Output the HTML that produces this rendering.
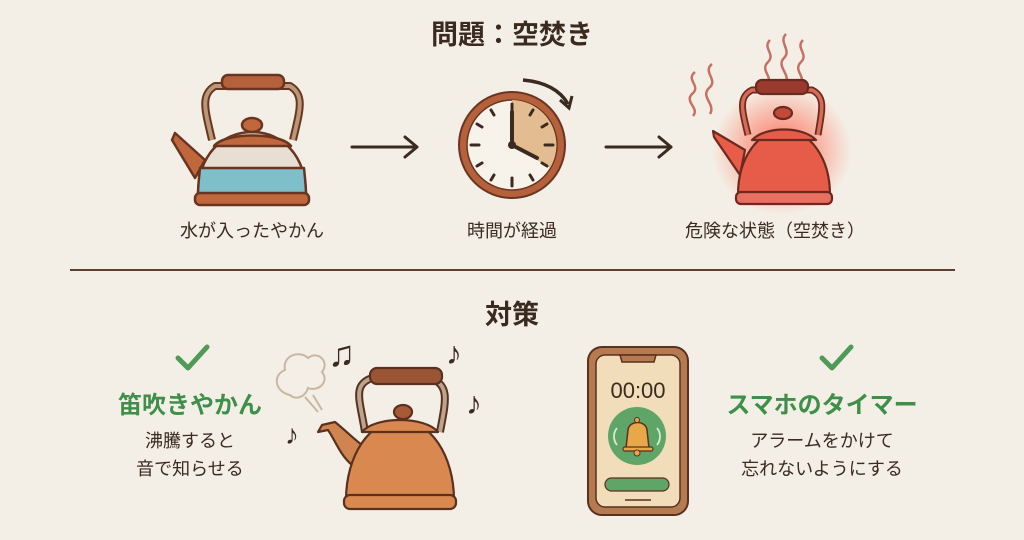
<!DOCTYPE html>
<html><head><meta charset="utf-8"><style>
html,body{margin:0;padding:0;background:#f4efe6;}
svg{display:block}
text{font-family:"Liberation Sans","Noto Sans CJK JP",sans-serif;}
</style></head><body>
<svg width="1024" height="540" viewBox="0 0 1024 540" xmlns="http://www.w3.org/2000/svg">
<defs>
<radialGradient id="glow" cx="50%" cy="50%" r="50%">
<stop offset="0" stop-color="#ff3b2a" stop-opacity="0.75"/>
<stop offset="0.6" stop-color="#ff5a40" stop-opacity="0.35"/>
<stop offset="1" stop-color="#ff6a50" stop-opacity="0"/>
</radialGradient>
</defs>
<rect width="1024" height="540" fill="#f4efe6"/>
<text x="512" y="44" font-size="27" font-weight="bold" fill="#3a2a20" text-anchor="middle">問題：空焚き</text>

<!-- Kettle 1 (water) -->
<g stroke="#6a3520" stroke-width="2.5" stroke-linejoin="round">
<path d="M212,140 C205,110 200,95 215,86 L290,86 C305,95 300,110 293,140" fill="none" stroke="#6a3520" stroke-width="8"/>
<path d="M212,140 C205,110 200,95 215,86 L290,86 C305,95 300,110 293,140" fill="none" stroke="#b89878" stroke-width="4"/>
<rect x="222" y="75" width="62" height="14" rx="6" fill="#b5613c"/>
<path d="M205,160 L175,133 L172,140 L195,178 Z" fill="#c0673e"/>
<path d="M198,195 C198,155 222,132 252,132 C282,132 306,155 306,195 Z" fill="#e8dfd2"/>
<path d="M200,168 L304,168 C305,178 306,186 306,195 L198,195 C198,186 199,178 200,168 Z" fill="#7ebfc9"/>
<path d="M214,146 C225,132 280,132 291,146 Z" fill="#c0673e"/>
<ellipse cx="252" cy="125" rx="10" ry="7" fill="#c0673e"/>
<rect x="195" y="193" width="114" height="12" rx="5" fill="#c0673e"/>
</g>

<!-- arrows -->
<g stroke="#3a2a20" stroke-width="3" fill="none" stroke-linecap="round" stroke-linejoin="round">
<path d="M352,147 L417,147 M405,137 L417,147 L405,157"/>
<path d="M606,147 L671,147 M659,137 L671,147 L659,157"/>
</g>

<!-- Clock -->
<circle cx="512" cy="145" r="53" fill="#b5613c" stroke="#6a3520" stroke-width="2"/>
<circle cx="512" cy="145" r="45" fill="#f8f3ea" stroke="#6a3520" stroke-width="1.5"/>
<path d="M512,145 L512,100 A45,45 0 0 1 550,168 Z" fill="#e3bd91"/>
<g stroke="#3a2a20" stroke-width="3" stroke-linecap="round">
<line x1="512" y1="104" x2="512" y2="112"/><line x1="512" y1="178" x2="512" y2="186"/>
<line x1="471" y1="145" x2="479" y2="145"/><line x1="545" y1="145" x2="553" y2="145"/>
<line x1="491" y1="110" x2="494" y2="115"/><line x1="533" y1="110" x2="530" y2="115"/>
<line x1="477" y1="124" x2="482" y2="127"/><line x1="547" y1="124" x2="542" y2="127"/>
<line x1="477" y1="166" x2="482" y2="163"/><line x1="547" y1="166" x2="542" y2="163"/>
<line x1="491" y1="180" x2="494" y2="175"/><line x1="533" y1="180" x2="530" y2="175"/>
<line x1="512" y1="145" x2="512" y2="112" stroke-width="4"/>
<line x1="512" y1="145" x2="537" y2="158" stroke-width="4"/>
</g>
<circle cx="512" cy="145" r="4" fill="#3a2a20"/>
<path d="M523,80 C545,82 560,90 568,104" stroke="#3a2a20" stroke-width="3.5" fill="none"/>
<path d="M560,100 L569,108 L572,96" stroke="#3a2a20" stroke-width="3" fill="none"/>

<!-- Red kettle -->
<ellipse cx="782" cy="150" rx="70" ry="65" fill="url(#glow)"/>
<g stroke="#c77065" stroke-width="2.5" fill="none">
<path d="M695,72 C685,80 702,86 692,94 C684,102 700,108 693,116"/>
<path d="M712,64 C702,72 719,80 709,88 C700,97 716,104 710,114"/>
<path d="M770,40 C762,48 776,54 768,62 C760,70 772,76 768,82"/>
<path d="M786,34 C778,42 792,50 784,58 C776,66 790,74 786,82"/>
<path d="M803,40 C795,48 809,54 801,62 C793,70 805,76 801,82"/>
</g>
<g stroke="#6a2a20" stroke-width="2.2" stroke-linejoin="round">
<path d="M748,135 C742,110 738,97 752,90 L812,90 C826,97 822,110 818,135" fill="none" stroke="#6a2a20" stroke-width="7"/>
<path d="M748,135 C742,110 738,97 752,90 L812,90 C826,97 822,110 818,135" fill="none" stroke="#d86a58" stroke-width="3.5"/>
<rect x="756" y="80" width="52" height="14" rx="6" fill="#9a3a2e"/>
<path d="M745,150 L713,131 L714,137 L740,175 Z" fill="#e85c48"/>
<path d="M738,195 C738,158 758,130 784,130 C810,130 830,158 830,195 Z" fill="#e65c48"/>
<path d="M752,140 C765,126 803,126 816,140 Z" fill="#e65c48"/>
<ellipse cx="783" cy="113" rx="9" ry="6" fill="#c24a3a"/>
<rect x="736" y="192" width="96" height="12" rx="5" fill="#e87060"/>
</g>

<text x="252" y="237" font-size="18" fill="#3a2a20" text-anchor="middle">水が入ったやかん</text>
<text x="512" y="237" font-size="18" fill="#3a2a20" text-anchor="middle">時間が経過</text>
<text x="775" y="237" font-size="18" fill="#3a2a20" text-anchor="middle">危険な状態（空焚き）</text>

<line x1="70" y1="270" x2="955" y2="270" stroke="#5a4030" stroke-width="2"/>
<text x="512" y="324" font-size="27" font-weight="bold" fill="#3a2a20" text-anchor="middle">対策</text>

<!-- left section -->
<path d="M178,358 L188,368 L207,347" stroke="#4f9a58" stroke-width="5" fill="none" stroke-linecap="round" stroke-linejoin="round"/>
<text x="190" y="413" font-size="24" font-weight="bold" fill="#3f8f4a" text-anchor="middle">笛吹きやかん</text>
<text x="190" y="447" font-size="18" fill="#3a2a20" text-anchor="middle">沸騰すると</text>
<text x="190" y="475" font-size="18" fill="#3a2a20" text-anchor="middle">音で知らせる</text>

<!-- whistling kettle -->
<path d="M290,395 C275,392 272,375 285,370 C282,355 300,350 308,358 C318,350 330,362 322,372 C330,382 318,392 308,388 C305,398 295,400 290,395 Z" fill="#f4efe6" stroke="#c8b6a0" stroke-width="2"/>
<g stroke="#c8b6a0" stroke-width="2"><line x1="305" y1="397" x2="318" y2="412"/><line x1="313" y1="395" x2="322" y2="410"/></g>
<g stroke="#5a3020" stroke-width="2.2" stroke-linejoin="round">
<path d="M365,432 C360,400 352,385 372,378 L430,378 C450,385 446,400 440,432" fill="none" stroke="#5a3020" stroke-width="8"/>
<path d="M365,432 C360,400 352,385 372,378 L430,378 C450,385 446,400 440,432" fill="none" stroke="#bba58e" stroke-width="4"/>
<rect x="370" y="368" width="72" height="16" rx="7" fill="#9a5535"/>
<path d="M352,465 C340,455 335,440 328,430 L318,432 L322,425 L335,422 C345,430 355,440 362,445 Z" fill="#d08550"/>
<path d="M346,500 C346,455 370,420 400,420 C430,420 454,455 454,500 Z" fill="#d9894f"/>
<path d="M362,432 C375,416 425,416 438,432 Z" fill="#d9894f"/>
<ellipse cx="403" cy="412" rx="9" ry="7" fill="#a85a35"/>
<rect x="344" y="495" width="112" height="14" rx="6" fill="#d9894f"/>
</g>
<g fill="#3a2a20">
<text x="328" y="366" font-size="36" font-family="DejaVu Sans" font-weight="bold">♫</text>
<text x="446" y="364" font-size="32" font-family="DejaVu Sans" font-weight="bold">♪</text>
<text x="466" y="414" font-size="32" font-family="DejaVu Sans" font-weight="bold">♪</text>
<text x="285" y="444" font-size="28" font-family="DejaVu Sans" font-weight="bold">♪</text>
</g>

<!-- phone -->
<rect x="588" y="347" width="100" height="168" rx="14" fill="#b57a50" stroke="#5a3020" stroke-width="2"/>
<rect x="596" y="355" width="84" height="152" rx="9" fill="#f2ddba" stroke="#5a3020" stroke-width="1.5"/>
<path d="M620,355 L622,362 L654,362 L656,355 Z" fill="#b57a50" stroke="#5a3020" stroke-width="1.5"/>
<text x="638" y="398" font-size="22" fill="#3a2a20" text-anchor="middle">00:00</text>
<circle cx="637" cy="436" r="29" fill="#5fa568"/>
<path d="M626,448 L628,430 C629,420 646,420 647,430 L649,448 Z" fill="#e8a84a" stroke="#5a3020" stroke-width="1.5"/>
<rect x="623" y="447" width="30" height="4" rx="2" fill="#e8a84a" stroke="#5a3020" stroke-width="1.2"/>
<circle cx="637" cy="453" r="3" fill="#e8a84a" stroke="#5a3020" stroke-width="1"/>
<circle cx="637" cy="420" r="2.5" fill="#e8a84a" stroke="#5a3020" stroke-width="1"/>
<g stroke="#d6ecd0" stroke-width="1.8" fill="none"><path d="M617,428 C613,433 613,440 617,445"/><path d="M657,428 C661,433 661,440 657,445"/></g>
<rect x="605" y="478" width="64" height="13" rx="6.5" fill="#5fa568" stroke="#5a3020" stroke-width="1.2"/>
<line x1="625" y1="500" x2="651" y2="500" stroke="#5a3020" stroke-width="1.5"/>

<!-- right section -->
<path d="M822,358 L832,368 L851,347" stroke="#4f9a58" stroke-width="5" fill="none" stroke-linecap="round" stroke-linejoin="round"/>
<text x="822" y="413" font-size="24" font-weight="bold" fill="#3f8f4a" text-anchor="middle">スマホのタイマー</text>
<text x="822" y="447" font-size="18" fill="#3a2a20" text-anchor="middle">アラームをかけて</text>
<text x="822" y="475" font-size="18" fill="#3a2a20" text-anchor="middle">忘れないようにする</text>
</svg>
</body></html>
